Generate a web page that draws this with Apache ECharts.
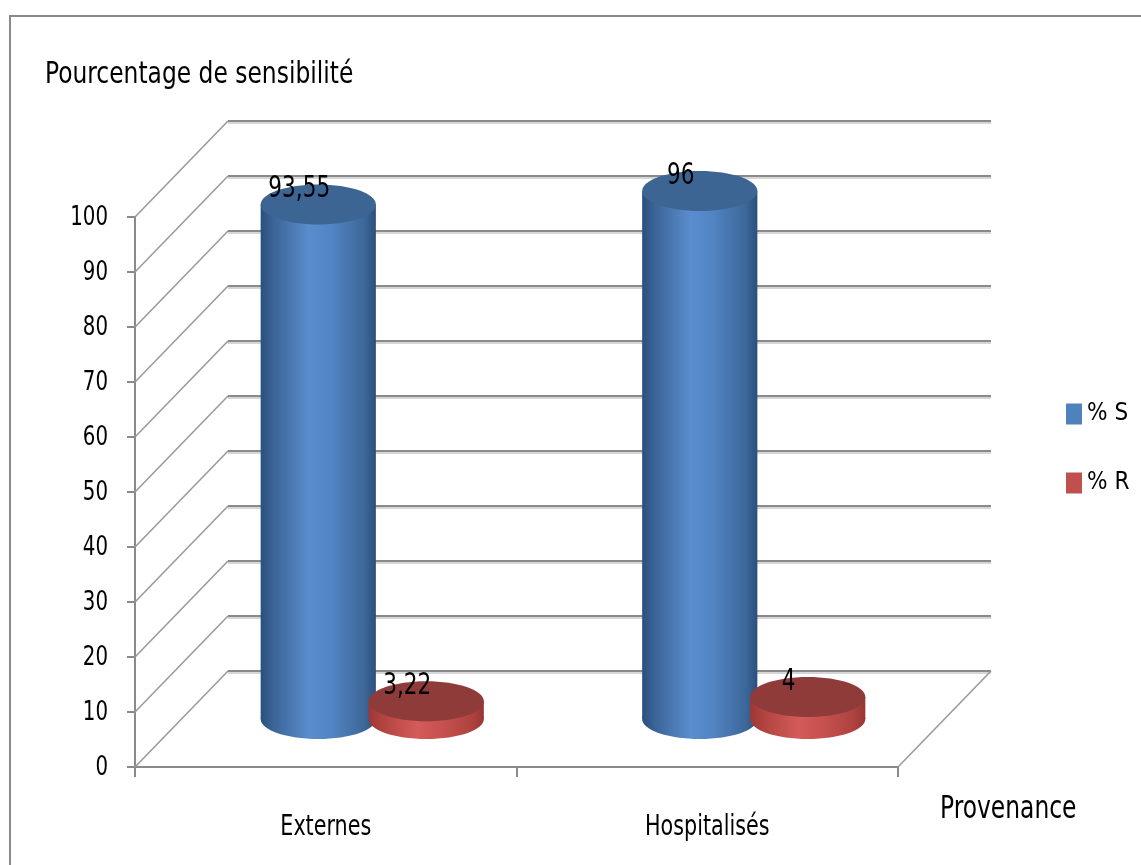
<!DOCTYPE html>
<html>
<head>
<meta charset="utf-8">
<script src="https://cdn.jsdelivr.net/npm/echarts@6/dist/echarts.min.js"></script>
<style>
html,body{margin:0;padding:0;background:#fff;}
#chart{width:1141px;height:865px;}
</style>
</head>
<body>
<div id="chart"></div>
<script>
// ---- data ----
const categories = ['Externes', 'Hospitalisés'];
const seriesNames = ['% S', '% R'];
const pctS = [93.55, 96];
const pctR = [3.22, 4];
const yTicks = [0, 10, 20, 30, 40, 50, 60, 70, 80, 90, 100];
const titleText = 'Pourcentage de sensibilité';
const xAxisName = 'Provenance';

// ---- style ----
const FONT = '"DejaVu Sans Condensed", "Liberation Sans Narrow", "Arial Narrow", sans-serif';
const DEPTH = [93, -96];       // front plane -> back plane offset (px)
const GRID_GRAY = '#8a8a8a';
const GRID_LIGHT = '#d6d6d6';
const STRETCH = 1.24;          // the reference text is drawn tall and narrow

const blueSide = [
  {offset: 0, color: '#2b4f7d'}, {offset: 0.12, color: '#3c6699'},
  {offset: 0.42, color: '#5a8dcd'}, {offset: 0.62, color: '#5184c2'},
  {offset: 0.9, color: '#3d6799'}, {offset: 1, color: '#2c4f7c'}
];
const redSide = [
  {offset: 0, color: '#9c3735'}, {offset: 0.12, color: '#b1443f'},
  {offset: 0.42, color: '#d35b59'}, {offset: 0.62, color: '#c85250'},
  {offset: 0.9, color: '#ad423f'}, {offset: 1, color: '#983634'}
];

function fmt(v) { return String(v).replace('.', ','); }

const chart = echarts.init(document.getElementById('chart'), null, {renderer: 'canvas'});

function wallRender(params, api) {
  const cs = params.coordSys;
  const v = api.value(1);
  const y = api.coord([0, v])[1];
  const x0 = cs.x, x1 = cs.x + cs.width;
  const bx0 = x0 + DEPTH[0], by = y + DEPTH[1], bx1 = x1 + DEPTH[0];
  const children = [
    {type: 'line', shape: {x1: x0, y1: y, x2: bx0, y2: by}, style: {stroke: '#9a9a9a', lineWidth: 1.6}},
    {type: 'line', shape: {x1: bx0, y1: by + 2, x2: bx1, y2: by + 2}, style: {stroke: GRID_LIGHT, lineWidth: 2}},
    {type: 'line', shape: {x1: bx0, y1: by, x2: bx1, y2: by}, style: {stroke: GRID_GRAY, lineWidth: 2}},
    {type: 'text', x: x0 - 27, y: y + 1, scaleY: STRETCH,
      style: {text: String(v), fill: '#000', font: '22px ' + FONT, align: 'right', verticalAlign: 'middle'}}
  ];
  if (v === 0) {
    children.push({type: 'line', shape: {x1: x1, y1: y, x2: bx1, y2: by}, style: {stroke: '#9a9a9a', lineWidth: 1.6}});
  }
  return {type: 'group', children: children};
}

function catLabelRender(params, api) {
  const cs = params.coordSys;
  const idx = api.value(0);
  const x = api.coord([idx, 0])[0];
  return {type: 'text', x: x, y: cs.y + cs.height + 61, scaleY: STRETCH,
    style: {text: categories[idx], fill: '#000', font: '23px ' + FONT, align: 'center', verticalAlign: 'middle'}};
}

function makeCylRender(shift, stops, topColor) {
  return function (params, api) {
    const idx = api.value(0);
    const val = api.value(1);
    const band = api.size([1, 0])[0];
    const top = api.coord([idx, val]);
    const base = api.coord([idx, 0]);
    const cx = top[0] + band * shift;
    const rx = band * 0.151;
    const ry = 20;
    const grad = new echarts.graphic.LinearGradient(0, 0, 1, 0, stops);
    return {
      type: 'group',
      children: [
        {type: 'ellipse', shape: {cx: cx, cy: base[1], rx: rx, ry: ry}, style: {fill: grad}},
        {type: 'rect', shape: {x: cx - rx, y: top[1], width: rx * 2, height: base[1] - top[1]}, style: {fill: grad}},
        {type: 'ellipse', shape: {cx: cx, cy: top[1], rx: rx, ry: ry}, style: {fill: topColor}},
        {type: 'text', x: cx - 19, y: top[1] - ry + 5, scaleY: STRETCH,
          style: {text: fmt(val), fill: '#000', font: '24px ' + FONT, align: 'center', verticalAlign: 'middle'}}
      ]
    };
  };
}

const option = {
  backgroundColor: '#fff',
  animation: false,
  legend: {
    orient: 'vertical',
    left: 1066, top: 402, padding: 0,
    icon: 'rect',
    itemWidth: 16, itemHeight: 21, itemGap: 45,
    data: seriesNames,
    textStyle: {fontFamily: FONT, fontSize: 24, color: '#000'}
  },
  graphic: [
    {type: 'rect', shape: {x: 10, y: 16, width: 1140, height: 870}, style: {fill: null, stroke: '#8a8a8a', lineWidth: 2}, silent: true},
    {type: 'text', x: 45, y: 75, scaleY: 1.18,
      style: {text: titleText, font: '26px ' + FONT, fill: '#000', align: 'left', verticalAlign: 'middle'}},
    {type: 'text', x: 940, y: 810, scaleY: 1.2,
      style: {text: xAxisName, font: '26px ' + FONT, fill: '#000', align: 'left', verticalAlign: 'middle'}}
  ],
  grid: [
    {left: 135, top: 217, width: 763, height: 550},
    {left: 181.5, top: 169, width: 763, height: 550}
  ],
  xAxis: [
    {gridIndex: 0, type: 'category', data: categories,
      axisLine: {show: true, lineStyle: {color: GRID_GRAY, width: 2}},
      axisTick: {show: true, length: 10, alignWithLabel: false, lineStyle: {color: GRID_GRAY, width: 2}},
      axisLabel: {show: false},
      splitLine: {show: false}},
    {gridIndex: 1, type: 'category', data: categories, show: false}
  ],
  yAxis: [
    {gridIndex: 0, type: 'value', min: 0, max: 100, interval: 10,
      axisLine: {show: true, lineStyle: {color: GRID_GRAY, width: 2}},
      axisTick: {show: true, length: 8, lineStyle: {color: GRID_GRAY, width: 2}},
      axisLabel: {show: false},
      splitLine: {show: false}},
    {gridIndex: 1, type: 'value', min: 0, max: 100, interval: 10, show: false, splitLine: {show: false}}
  ],
  series: [
    {type: 'custom', name: 'walls', xAxisIndex: 0, yAxisIndex: 0, z: 1, silent: true,
      renderItem: wallRender, data: yTicks.map(function (v) { return [0, v]; })},
    {type: 'custom', name: 'categoryLabels', xAxisIndex: 0, yAxisIndex: 0, z: 1, silent: true,
      renderItem: catLabelRender, data: categories.map(function (c, i) { return [i, 0]; })},
    {type: 'custom', name: seriesNames[0], xAxisIndex: 1, yAxisIndex: 1, z: 3,
      itemStyle: {color: '#4f81bd'},
      renderItem: makeCylRender(-0.1415, blueSide, '#3d6594'),
      data: pctS.map(function (v, i) { return [i, v]; })},
    {type: 'custom', name: seriesNames[1], xAxisIndex: 1, yAxisIndex: 1, z: 4,
      itemStyle: {color: '#c0504d'},
      renderItem: makeCylRender(0.1415, redSide, '#8f3b39'),
      data: pctR.map(function (v, i) { return [i, v]; })}
  ]
};
chart.setOption(option);
</script>
</body>
</html>
